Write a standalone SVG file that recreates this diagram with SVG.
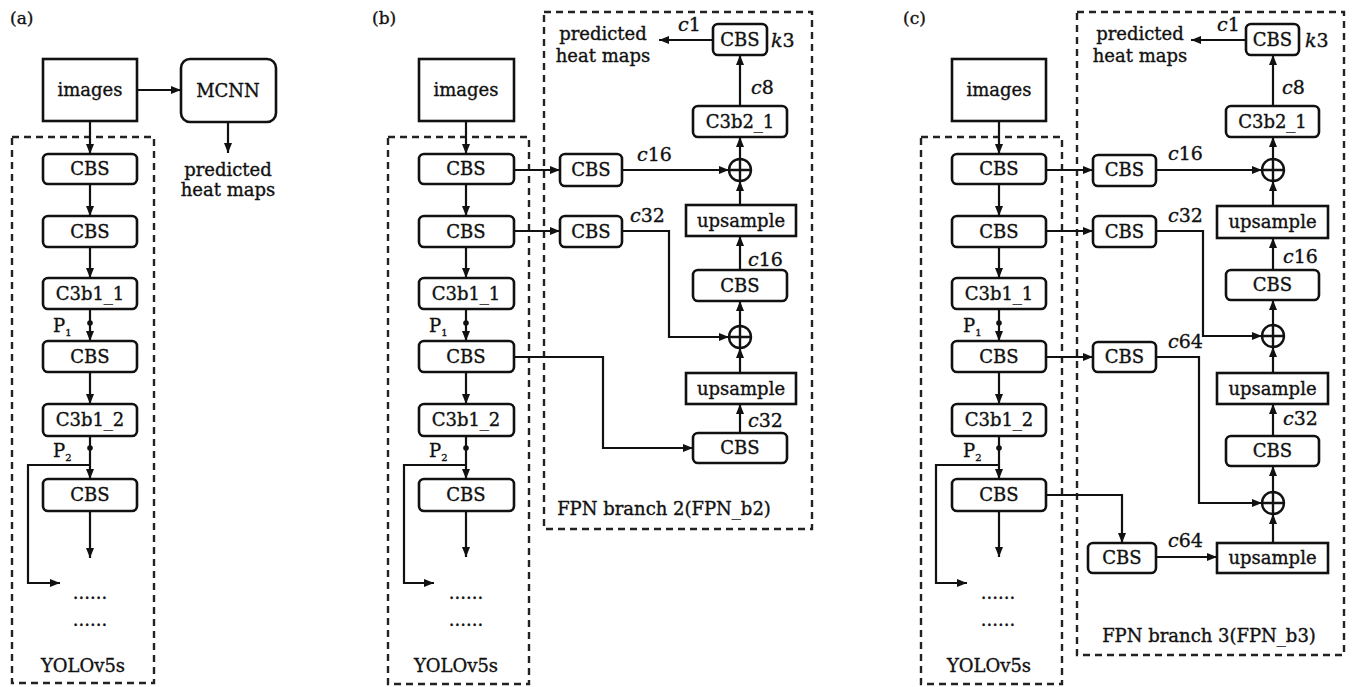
<svg xmlns="http://www.w3.org/2000/svg" width="1357" height="687" viewBox="0 0 1357 687">
<defs>
<marker id="ah" viewBox="0 0 10 8" refX="10" refY="4" markerWidth="10" markerHeight="8" markerUnits="userSpaceOnUse" orient="auto"><path d="M0,0 L10,4 L0,8 z" fill="#111"/></marker>
<style>
.box{fill:#fff;stroke:#111;stroke-width:2.6}
.dash{fill:none;stroke:#222;stroke-width:2.4;stroke-dasharray:7 5}
.ln{fill:none;stroke:#111;stroke-width:2.2}
.arr{marker-end:url(#ah)}
.dot{fill:#111}
.pl{fill:none;stroke:#111;stroke-width:2.4}
text{font-family:"DejaVu Serif","Liberation Serif",serif;font-size:18px;fill:#111;stroke:#111;stroke-width:0.35}
.m{text-anchor:middle}
.lab{font-size:17px}
.sub{font-size:10px}
.i{font-style:italic}
.c{font-size:19px}
</style>
</defs>
<rect width="1357" height="687" fill="#fff"/>

<!-- ================= Panel (a) ================= -->
<g id="panel-a">
<text class="lab" x="10" y="24">(a)</text>
<rect id="a-yolo" class="dash" x="12" y="137" width="142" height="546"/>
<text class="m" x="83" y="672">YOLOv5s</text>
<g id="a-images"><rect class="box" x="43" y="59" width="94" height="62"/><text class="m" x="90" y="96">images</text></g>
<g id="a-mcnn"><rect class="box" x="181" y="59" width="95" height="63" rx="9"/><text class="m" x="228" y="97">MCNN</text></g>
<g id="a-pred"><text class="m" x="228" y="176">predicted</text><text class="m" x="228" y="196">heat maps</text></g>
<g id="a-cbs1"><rect class="box" x="43" y="154" width="94" height="30" rx="5"/><text class="m" x="90" y="175">CBS</text></g>
<g id="a-cbs2"><rect class="box" x="43" y="216" width="94" height="31" rx="5"/><text class="m" x="90" y="238">CBS</text></g>
<g id="a-c3b1_1"><rect class="box" x="43" y="278" width="94" height="31" rx="5"/><text class="m" x="90" y="300">C3b1_1</text></g>
<g id="a-cbs3"><rect class="box" x="43" y="341" width="94" height="31" rx="5"/><text class="m" x="90" y="363">CBS</text></g>
<g id="a-c3b1_2"><rect class="box" x="43" y="404" width="94" height="32" rx="5"/><text class="m" x="90" y="426">C3b1_2</text></g>
<g id="a-cbs4"><rect class="box" x="43" y="479" width="94" height="32" rx="5"/><text class="m" x="90" y="501">CBS</text></g>
<g id="a-more"><text class="m" x="90" y="599">......</text><text class="m" x="90" y="626">......</text></g>
<g id="a-p"><text x="53" y="332">P<tspan class="sub" dy="4">1</tspan></text><text x="53" y="457">P<tspan class="sub" dy="4">2</tspan></text></g>
<g id="a-connectors">
<line class="ln arr" x1="137" y1="90" x2="181" y2="90"/>
<line class="ln arr" x1="228" y1="122" x2="228" y2="153"/>
<line class="ln arr" x1="90" y1="121" x2="90" y2="154"/>
<line class="ln arr" x1="90" y1="184" x2="90" y2="216"/>
<line class="ln arr" x1="90" y1="247" x2="90" y2="278"/>
<line class="ln arr" x1="90" y1="309" x2="90" y2="341"/>
<line class="ln arr" x1="90" y1="372" x2="90" y2="404"/>
<line class="ln arr" x1="90" y1="436" x2="90" y2="479"/>
<line class="ln arr" x1="90" y1="511" x2="90" y2="558"/>
<path class="ln arr" d="M90,465 H28 V583 H60"/>
<circle class="dot" cx="90" cy="323" r="2.8"/>
<circle class="dot" cx="90" cy="448" r="2.8"/>
</g>
</g>

<!-- ================= Panel (b) ================= -->
<g id="panel-b">
<text class="lab" x="372" y="24">(b)</text>
<rect id="b-yolo" class="dash" x="388" y="137" width="141" height="547"/>
<text class="m" x="456" y="672">YOLOv5s</text>
<rect id="b-fpn" class="dash" x="544" y="12" width="268" height="517"/>
<text class="m" x="664" y="515">FPN branch 2(FPN_b2)</text>
<g id="b-images"><rect class="box" x="419" y="59" width="95" height="62"/><text class="m" x="466" y="96">images</text></g>
<g id="b-cbs1"><rect class="box" x="419" y="154" width="95" height="30" rx="5"/><text class="m" x="466" y="175">CBS</text></g>
<g id="b-cbs2"><rect class="box" x="419" y="216" width="95" height="31" rx="5"/><text class="m" x="466" y="238">CBS</text></g>
<g id="b-c3b1_1"><rect class="box" x="419" y="278" width="95" height="31" rx="5"/><text class="m" x="466" y="300">C3b1_1</text></g>
<g id="b-cbs3"><rect class="box" x="419" y="341" width="95" height="31" rx="5"/><text class="m" x="466" y="363">CBS</text></g>
<g id="b-c3b1_2"><rect class="box" x="419" y="404" width="95" height="32" rx="5"/><text class="m" x="466" y="426">C3b1_2</text></g>
<g id="b-cbs4"><rect class="box" x="419" y="479" width="95" height="32" rx="5"/><text class="m" x="466" y="501">CBS</text></g>
<g id="b-more"><text class="m" x="466" y="599">......</text><text class="m" x="466" y="626">......</text></g>
<g id="b-p"><text x="429" y="332">P<tspan class="sub" dy="4">1</tspan></text><text x="429" y="457">P<tspan class="sub" dy="4">2</tspan></text></g>

<g id="b-pred"><text class="m" x="603" y="40">predicted</text><text class="m" x="603" y="62">heat maps</text></g>
<g id="b-cbs-top"><rect class="box" x="713" y="24" width="54" height="31" rx="5"/><text class="m" x="740" y="46">CBS</text></g>
<g id="b-c3b2_1"><rect class="box" x="693" y="106" width="94" height="31" rx="5"/><text class="m" x="740" y="128">C3b2_1</text></g>
<g id="b-plus1"><circle class="pl" cx="740" cy="170" r="11"/><path class="pl" d="M729,170 H751 M740,159 V181"/></g>
<g id="b-cbs-l1"><rect class="box" x="560" y="154" width="62" height="32" rx="5"/><text class="m" x="591" y="176">CBS</text></g>
<g id="b-cbs-l2"><rect class="box" x="560" y="216" width="62" height="31" rx="5"/><text class="m" x="591" y="238">CBS</text></g>
<g id="b-up1"><rect class="box" x="686" y="205" width="110" height="31"/><text class="m" x="741" y="227">upsample</text></g>
<g id="b-cbs-r1"><rect class="box" x="693" y="270" width="94" height="31" rx="5"/><text class="m" x="740" y="292">CBS</text></g>
<g id="b-plus2"><circle class="pl" cx="740" cy="337" r="11"/><path class="pl" d="M729,337 H751 M740,326 V348"/></g>
<g id="b-up2"><rect class="box" x="686" y="373" width="110" height="31"/><text class="m" x="741" y="395">upsample</text></g>
<g id="b-cbs-r2"><rect class="box" x="693" y="433" width="94" height="30" rx="5"/><text class="m" x="740" y="454">CBS</text></g>

<g id="b-labels">
<text class="c" x="678" y="31"><tspan class="i">c</tspan>1</text>
<text class="c" x="771" y="47"><tspan class="i">k</tspan>3</text>
<text class="c" x="751" y="94"><tspan class="i">c</tspan>8</text>
<text class="c" x="637" y="161"><tspan class="i">c</tspan>16</text>
<text class="c" x="630" y="222"><tspan class="i">c</tspan>32</text>
<text class="c" x="748" y="266"><tspan class="i">c</tspan>16</text>
<text class="c" x="748" y="427"><tspan class="i">c</tspan>32</text>
</g>

<g id="b-connectors">
<line class="ln arr" x1="466" y1="121" x2="466" y2="154"/>
<line class="ln arr" x1="466" y1="184" x2="466" y2="216"/>
<line class="ln arr" x1="466" y1="247" x2="466" y2="278"/>
<line class="ln arr" x1="466" y1="309" x2="466" y2="341"/>
<line class="ln arr" x1="466" y1="372" x2="466" y2="404"/>
<line class="ln arr" x1="466" y1="436" x2="466" y2="479"/>
<line class="ln arr" x1="466" y1="511" x2="466" y2="557"/>
<path class="ln arr" d="M466,465 H404 V583 H434"/>
<circle class="dot" cx="466" cy="323" r="2.8"/>
<circle class="dot" cx="466" cy="448" r="2.8"/>
<line class="ln arr" x1="514" y1="170" x2="560" y2="170"/>
<line class="ln arr" x1="514" y1="231" x2="560" y2="231"/>
<line class="ln arr" x1="622" y1="170" x2="729" y2="170"/>
<path class="ln arr" d="M622,231 H669 V337 H729"/>
<path class="ln arr" d="M514,357 H603 V448 H693"/>
<line class="ln arr" x1="740" y1="433" x2="740" y2="404"/>
<line class="ln arr" x1="740" y1="373" x2="740" y2="348"/>
<line class="ln arr" x1="740" y1="326" x2="740" y2="301"/>
<line class="ln arr" x1="740" y1="270" x2="740" y2="236"/>
<line class="ln arr" x1="740" y1="205" x2="740" y2="181"/>
<line class="ln arr" x1="740" y1="159" x2="740" y2="137"/>
<line class="ln arr" x1="740" y1="106" x2="740" y2="55"/>
<line class="ln arr" x1="713" y1="40" x2="659" y2="40"/>
</g>
</g>

<!-- ================= Panel (c) ================= -->
<g id="panel-c">
<text class="lab" x="903" y="24">(c)</text>
<rect id="c-yolo" class="dash" x="921" y="137" width="141" height="547"/>
<text class="m" x="989" y="672">YOLOv5s</text>
<rect id="c-fpn" class="dash" x="1077" y="12" width="267" height="643"/>
<text class="m" x="1209" y="642">FPN branch 3(FPN_b3)</text>
<g id="c-images"><rect class="box" x="952" y="59" width="94" height="62"/><text class="m" x="999" y="96">images</text></g>
<g id="c-cbs1"><rect class="box" x="952" y="154" width="94" height="30" rx="5"/><text class="m" x="999" y="175">CBS</text></g>
<g id="c-cbs2"><rect class="box" x="952" y="216" width="94" height="31" rx="5"/><text class="m" x="999" y="238">CBS</text></g>
<g id="c-c3b1_1"><rect class="box" x="952" y="278" width="94" height="31" rx="5"/><text class="m" x="999" y="300">C3b1_1</text></g>
<g id="c-cbs3"><rect class="box" x="952" y="341" width="94" height="31" rx="5"/><text class="m" x="999" y="363">CBS</text></g>
<g id="c-c3b1_2"><rect class="box" x="952" y="404" width="94" height="32" rx="5"/><text class="m" x="999" y="426">C3b1_2</text></g>
<g id="c-cbs4"><rect class="box" x="952" y="479" width="94" height="32" rx="5"/><text class="m" x="999" y="501">CBS</text></g>
<g id="c-more"><text class="m" x="998" y="599">......</text><text class="m" x="998" y="626">......</text></g>
<g id="c-p"><text x="963" y="332">P<tspan class="sub" dy="4">1</tspan></text><text x="963" y="457">P<tspan class="sub" dy="4">2</tspan></text></g>

<g id="c-pred"><text class="m" x="1140" y="40">predicted</text><text class="m" x="1140" y="62">heat maps</text></g>
<g id="c-cbs-top"><rect class="box" x="1246" y="24" width="53" height="31" rx="5"/><text class="m" x="1272.5" y="46">CBS</text></g>
<g id="c-c3b2_1"><rect class="box" x="1226" y="106" width="93" height="31" rx="5"/><text class="m" x="1272.5" y="128">C3b2_1</text></g>
<g id="c-plus1"><circle class="pl" cx="1273" cy="170" r="11"/><path class="pl" d="M1262,170 H1284 M1273,159 V181"/></g>
<g id="c-cbs-l1"><rect class="box" x="1093" y="155" width="63" height="31" rx="5"/><text class="m" x="1124.5" y="176">CBS</text></g>
<g id="c-cbs-l2"><rect class="box" x="1093" y="216" width="63" height="31" rx="5"/><text class="m" x="1124.5" y="238">CBS</text></g>
<g id="c-cbs-l3"><rect class="box" x="1093" y="342" width="63" height="30" rx="5"/><text class="m" x="1124.5" y="363">CBS</text></g>
<g id="c-cbs-l4"><rect class="box" x="1088" y="543" width="68" height="30" rx="5"/><text class="m" x="1122" y="564">CBS</text></g>
<g id="c-up1"><rect class="box" x="1217" y="206" width="111" height="32"/><text class="m" x="1272.5" y="228">upsample</text></g>
<g id="c-cbs-r1"><rect class="box" x="1226" y="270" width="93" height="30" rx="5"/><text class="m" x="1272.5" y="291">CBS</text></g>
<g id="c-plus2"><circle class="pl" cx="1273" cy="336" r="11"/><path class="pl" d="M1262,336 H1284 M1273,325 V347"/></g>
<g id="c-up2"><rect class="box" x="1217" y="373" width="111" height="31"/><text class="m" x="1272.5" y="395">upsample</text></g>
<g id="c-cbs-r2"><rect class="box" x="1226" y="436" width="93" height="30" rx="5"/><text class="m" x="1272.5" y="457">CBS</text></g>
<g id="c-plus3"><circle class="pl" cx="1273" cy="503" r="11"/><path class="pl" d="M1262,503 H1284 M1273,492 V514"/></g>
<g id="c-up3"><rect class="box" x="1217" y="543" width="111" height="30"/><text class="m" x="1272.5" y="564">upsample</text></g>

<g id="c-labels">
<text class="c" x="1217" y="31"><tspan class="i">c</tspan>1</text>
<text class="c" x="1305" y="47"><tspan class="i">k</tspan>3</text>
<text class="c" x="1282" y="94"><tspan class="i">c</tspan>8</text>
<text class="c" x="1168" y="160"><tspan class="i">c</tspan>16</text>
<text class="c" x="1168" y="222"><tspan class="i">c</tspan>32</text>
<text class="c" x="1283" y="263"><tspan class="i">c</tspan>16</text>
<text class="c" x="1168" y="348"><tspan class="i">c</tspan>64</text>
<text class="c" x="1283" y="425"><tspan class="i">c</tspan>32</text>
<text class="c" x="1168" y="547"><tspan class="i">c</tspan>64</text>
</g>

<g id="c-connectors">
<line class="ln arr" x1="999" y1="121" x2="999" y2="154"/>
<line class="ln arr" x1="999" y1="184" x2="999" y2="216"/>
<line class="ln arr" x1="999" y1="247" x2="999" y2="278"/>
<line class="ln arr" x1="999" y1="309" x2="999" y2="341"/>
<line class="ln arr" x1="999" y1="372" x2="999" y2="404"/>
<line class="ln arr" x1="999" y1="436" x2="999" y2="479"/>
<line class="ln arr" x1="999" y1="511" x2="999" y2="557"/>
<path class="ln arr" d="M999,465 H936 V583 H967"/>
<circle class="dot" cx="999" cy="323" r="2.8"/>
<circle class="dot" cx="999" cy="448" r="2.8"/>
<line class="ln arr" x1="1046" y1="170" x2="1093" y2="170"/>
<line class="ln arr" x1="1046" y1="231" x2="1093" y2="231"/>
<line class="ln arr" x1="1046" y1="357" x2="1093" y2="357"/>
<path class="ln arr" d="M1046,495 H1122 V543"/>
<line class="ln arr" x1="1156" y1="170" x2="1262" y2="170"/>
<path class="ln arr" d="M1156,231 H1203 V336 H1262"/>
<path class="ln arr" d="M1156,357 H1199 V503 H1262"/>
<line class="ln arr" x1="1156" y1="557" x2="1217" y2="557"/>
<line class="ln arr" x1="1273" y1="543" x2="1273" y2="514"/>
<line class="ln arr" x1="1273" y1="492" x2="1273" y2="466"/>
<line class="ln arr" x1="1273" y1="436" x2="1273" y2="404"/>
<line class="ln arr" x1="1273" y1="373" x2="1273" y2="347"/>
<line class="ln arr" x1="1273" y1="325" x2="1273" y2="300"/>
<line class="ln arr" x1="1273" y1="270" x2="1273" y2="238"/>
<line class="ln arr" x1="1273" y1="206" x2="1273" y2="181"/>
<line class="ln arr" x1="1273" y1="159" x2="1273" y2="137"/>
<line class="ln arr" x1="1273" y1="106" x2="1273" y2="55"/>
<line class="ln arr" x1="1246" y1="40" x2="1191" y2="40"/>
</g>
</g>
</svg>
